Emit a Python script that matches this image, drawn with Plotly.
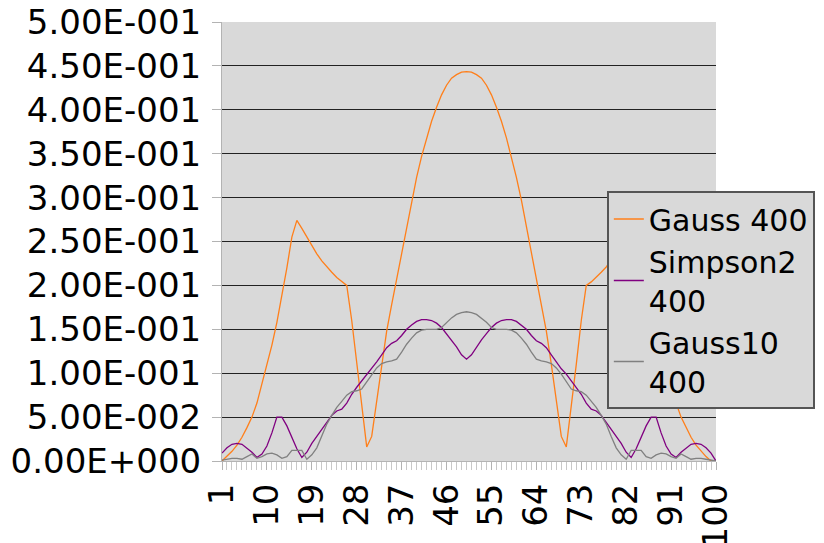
import plotly.graph_objects as go

categories = list(range(1, 101))

gauss400 = [0.0, 0.005, 0.011, 0.018, 0.027, 0.038, 0.05, 0.066, 0.088, 0.108,
            0.132, 0.158, 0.188, 0.22, 0.255, 0.274, 0.265, 0.255, 0.245, 0.236,
            0.228, 0.221, 0.215, 0.209, 0.204, 0.2, 0.16, 0.11, 0.06, 0.016,
            0.028, 0.07, 0.11, 0.148, 0.178, 0.207, 0.238, 0.268, 0.297, 0.323,
            0.347, 0.368, 0.387, 0.403, 0.417, 0.428, 0.436, 0.44, 0.443, 0.4435,
            0.443, 0.44, 0.436, 0.428, 0.417, 0.403, 0.387, 0.368, 0.347, 0.323,
            0.297, 0.268, 0.238, 0.207, 0.178, 0.148, 0.11, 0.07, 0.028, 0.016,
            0.06, 0.11, 0.16, 0.2, 0.204, 0.209, 0.215, 0.221, 0.228, 0.236,
            0.245, 0.255, 0.265, 0.274, 0.255, 0.22, 0.188, 0.158, 0.132, 0.108,
            0.088, 0.066, 0.05, 0.038, 0.027, 0.018, 0.011, 0.005, 0.0, 0.0]

simpson2_400 = [0.009, 0.015, 0.019, 0.02, 0.019, 0.015, 0.01, 0.004, 0.008, 0.017,
                0.032, 0.05, 0.05, 0.04, 0.027, 0.014, 0.004, 0.01, 0.02, 0.028,
                0.036, 0.044, 0.052, 0.057, 0.059, 0.066, 0.076, 0.084, 0.091, 0.099,
                0.105, 0.113, 0.121, 0.129, 0.134, 0.137, 0.143, 0.15, 0.155, 0.159,
                0.161, 0.161, 0.16, 0.157, 0.152, 0.145, 0.138, 0.13, 0.121, 0.116,
                0.121, 0.13, 0.138, 0.145, 0.152, 0.157, 0.16, 0.161, 0.161, 0.159,
                0.155, 0.15, 0.143, 0.137, 0.134, 0.129, 0.121, 0.113, 0.105, 0.099,
                0.091, 0.084, 0.076, 0.066, 0.059, 0.057, 0.052, 0.044, 0.036, 0.028,
                0.02, 0.01, 0.004, 0.014, 0.027, 0.04, 0.05, 0.05, 0.032, 0.017,
                0.008, 0.004, 0.01, 0.015, 0.019, 0.02, 0.019, 0.015, 0.009, 0.0]

gauss10_400 = [0.001, 0.002, 0.003, 0.003, 0.002, 0.005, 0.008, 0.003, 0.005, 0.008,
               0.009, 0.007, 0.003, 0.005, 0.012, 0.012, 0.012, 0.002, 0.007, 0.015,
               0.028, 0.042, 0.052, 0.061, 0.068, 0.075, 0.079, 0.08, 0.082, 0.09,
               0.099, 0.106, 0.111, 0.113, 0.114, 0.116, 0.124, 0.133, 0.14, 0.146,
               0.149, 0.15, 0.15, 0.15, 0.152, 0.158, 0.163, 0.167, 0.169, 0.17,
               0.169, 0.167, 0.163, 0.158, 0.152, 0.15, 0.15, 0.15, 0.149, 0.146,
               0.14, 0.133, 0.124, 0.116, 0.114, 0.113, 0.111, 0.106, 0.099, 0.09,
               0.082, 0.08, 0.079, 0.075, 0.068, 0.061, 0.052, 0.042, 0.028, 0.015,
               0.007, 0.002, 0.012, 0.012, 0.012, 0.005, 0.003, 0.007, 0.009, 0.008,
               0.005, 0.003, 0.008, 0.005, 0.002, 0.003, 0.003, 0.002, 0.001, 0.0]

series_names = ["Gauss 400", "Simpson2<br>400", "Gauss10<br>400"]
series_colors = ["#ff7f1a", "#800080", "#808080"]

x_tick_vals = [1, 10, 19, 28, 37, 46, 55, 64, 73, 82, 91, 100]
y_tick_vals = [0.0, 0.05, 0.1, 0.15, 0.2, 0.25, 0.3, 0.35, 0.4, 0.45, 0.5]
y_tick_text = ["0.00E+000", "5.00E-002", "1.00E-001", "1.50E-001", "2.00E-001",
               "2.50E-001", "3.00E-001", "3.50E-001", "4.00E-001", "4.50E-001",
               "5.00E-001"]

fig = go.Figure()
for name, ys, col in zip(series_names, [gauss400, simpson2_400, gauss10_400], series_colors):
    fig.add_trace(go.Scatter(x=categories, y=ys, mode="lines", name=name,
                             line=dict(color=col, width=1.3)))

FONT = "DejaVu Sans, Verdana, sans-serif"
fig.update_layout(
    width=824, height=543,
    margin=dict(l=214, r=116, t=14, b=90, autoexpand=False),
    paper_bgcolor="white",
    plot_bgcolor="#d9d9d9",
    font=dict(family=FONT, size=30, color="black"),
    showlegend=True,
    legend=dict(
        x=0.779, y=0.615, xanchor="left", yanchor="top",
        bgcolor="#d9d9d9", bordercolor="#555555", borderwidth=2,
        font=dict(family=FONT, size=30, color="black"),
        tracegroupgap=0, itemwidth=30,
    ),
)
fig.update_xaxes(
    range=[1, 100], tickmode="array", tickvals=x_tick_vals,
    ticktext=[str(v) for v in x_tick_vals], tickangle=-90,
    showgrid=False, zeroline=False, automargin=False,
    ticklabeloverflow="allow",
    showline=True, linecolor="#b3b3b3", linewidth=1,
    ticks="outside", ticklen=8, tickcolor="#b3b3b3",
    minor=dict(ticks="outside", dtick=1, tick0=1, ticklen=8, tickcolor="#c8c8c8", showgrid=False),
    tickfont=dict(size=34),
)
fig.update_yaxes(
    range=[0, 0.5], tickmode="array", tickvals=y_tick_vals, ticktext=y_tick_text,
    showgrid=True, gridcolor="#222222", gridwidth=1.2,
    zeroline=False, showline=True, linecolor="#b3b3b3", linewidth=1,
    automargin=False, ticklabeloverflow="allow", ticklabelstandoff=4,
    ticks="outside", ticklen=9, tickcolor="#b3b3b3",
    tickfont=dict(size=34),
)

fig.write_html("out.html")
